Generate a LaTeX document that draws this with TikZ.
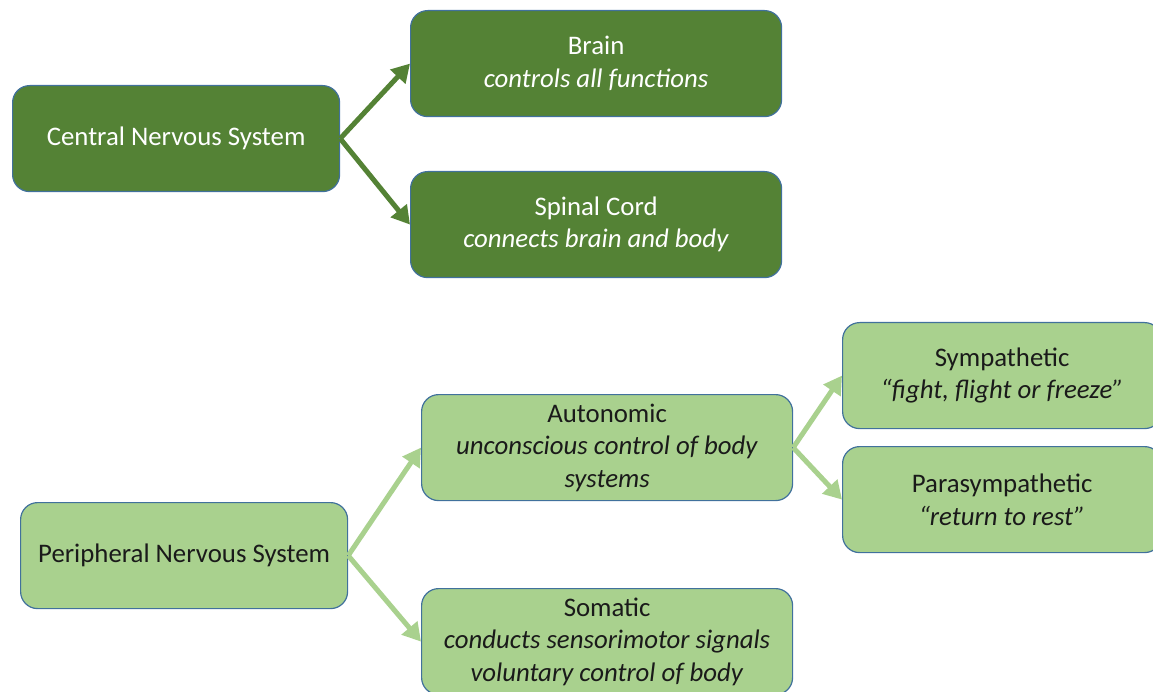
\documentclass[tikz,border=0pt]{standalone}
\usepackage{fontspec}
\setmainfont{Carlito}
\usetikzlibrary{arrows.meta}
\definecolor{darkg}{HTML}{548235}
\definecolor{lightg}{HTML}{A9D18E}
\definecolor{edgeb}{HTML}{41719C}
\definecolor{txt}{HTML}{1A1A1A}
\begin{document}
\begin{tikzpicture}[x=1pt,y=-1pt,
  box/.style={draw=edgeb, line width=1.2pt, rounded corners=17pt, minimum width=371pt, minimum height=106pt, align=center, inner sep=0pt, anchor=north west, font=\fontsize{26.8}{32.5}\selectfont},
  dbox/.style={box, fill=darkg, text=white},
  lbox/.style={box, fill=lightg, text=txt},
  darr/.style={draw=darkg, line width=5pt, -{Triangle[length=18pt,width=20pt]}},
  larr/.style={draw=lightg, line width=5pt, -{Triangle[length=18pt,width=20pt]}}]
\useasboundingbox (0,0) rectangle (1153,692);
\clip (0,0) rectangle (1153,692);
\node[dbox, minimum width=327pt] (cns) at (12,85) {Central Nervous System};
\node[dbox] (brain) at (410,10) {Brain\\\textit{controls all functions}};
\node[dbox] (spinal) at (410,171) {Spinal Cord\\\textit{connects brain and body}};
\node[lbox, minimum width=327pt] (pns) at (20,502) {Peripheral Nervous System};
\node[lbox] (auto) at (421,394) {Autonomic\\\textit{unconscious control of body}\\\textit{systems}};
\node[lbox] (soma) at (421,588) {Somatic\\\textit{conducts sensorimotor signals}\\\textit{voluntary control of body}};
\node[lbox, minimum width=319pt] (symp) at (842,322) {Sympathetic\\\textit{“fight, flight or freeze”}};
\node[lbox, minimum width=319pt] (para) at (842,446) {Parasympathetic\\\textit{“return to rest”}};
\draw[darr] (cns.east) -- (brain.west);
\draw[darr] (cns.east) -- (spinal.west);
\draw[larr] (pns.east) -- (auto.west);
\draw[larr] (pns.east) -- (soma.west);
\draw[larr] (auto.east) -- (symp.west);
\draw[larr] (auto.east) -- (para.west);
\end{tikzpicture}
\end{document}
